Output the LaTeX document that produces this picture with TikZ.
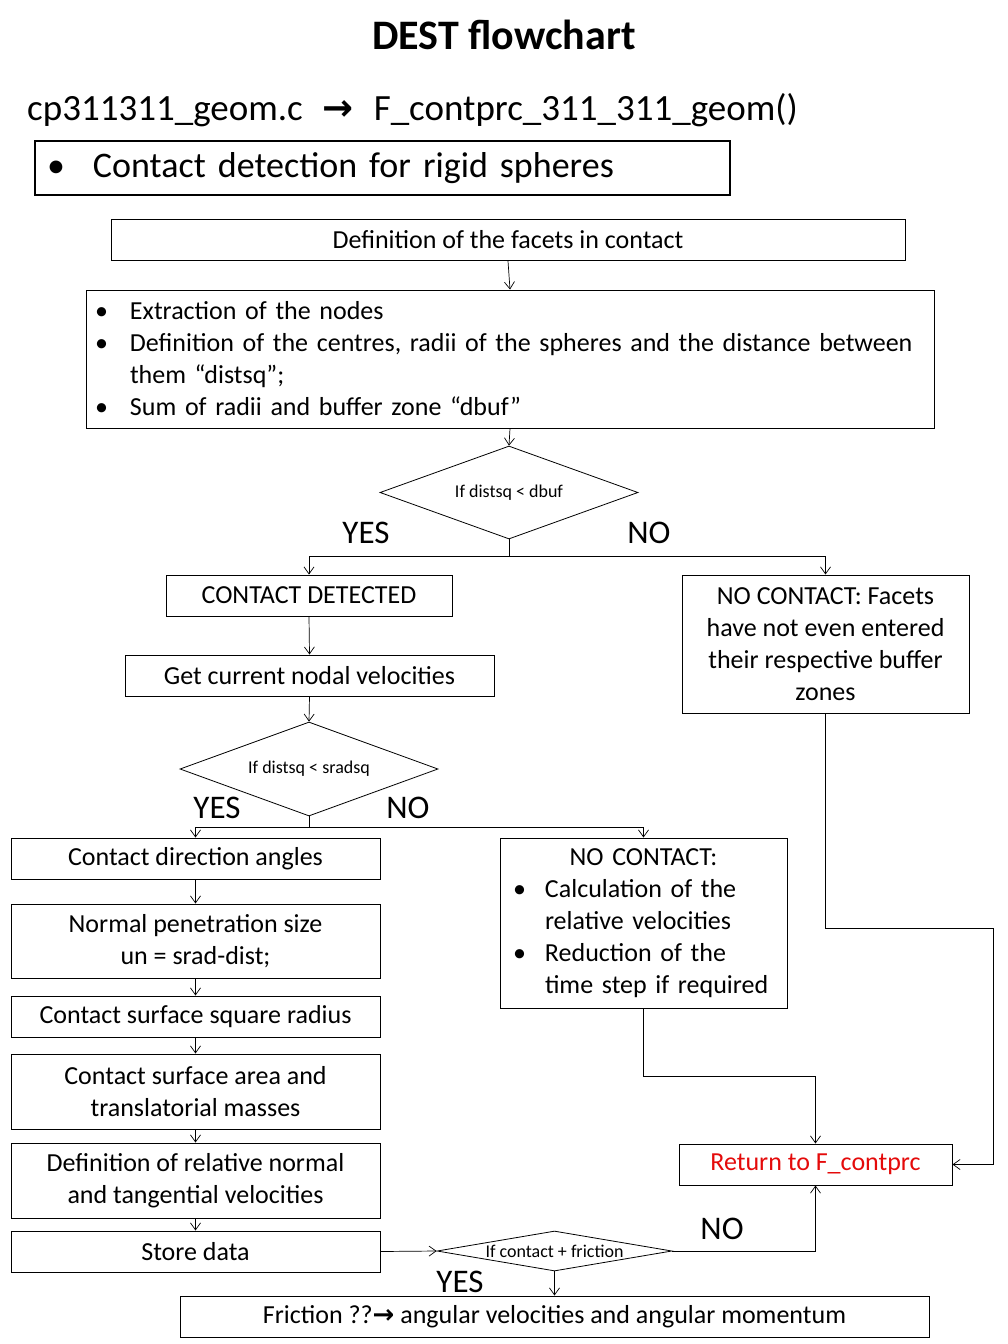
\documentclass[tikz,border=0pt]{standalone}
\usepackage{fontspec}
\setmainfont{Carlito}
\newfontfamily\arrfont{DejaVu Sans}
\usetikzlibrary{arrows.meta,shapes.geometric}
\definecolor{retred}{RGB}{228,10,10}
\newcommand{\dtext}[1]{\makebox[0pt]{#1}}
\begin{document}
\begin{tikzpicture}[x=1pt,y=-1pt,
  box/.style={draw, line width=1pt, inner sep=0pt, font=\fontsize{26}{32}\selectfont, align=center},
  dec/.style={draw, diamond, line width=0.8pt, inner sep=0pt, font=\fontsize{18}{20}\selectfont},
  lbl/.style={font=\fontsize{33}{36}\selectfont, inner sep=0pt},
  arr/.style={line width=0.7pt, -{Straight Barb[length=7pt,width=10pt]}},
  ln/.style={line width=0.7pt}]
\useasboundingbox (0,0) rectangle (1008,1344);

\node[font=\fontsize{42}{46}\bfseries\selectfont, inner sep=0pt] (title) at (504,35) {DEST flowchart};
\node[font=\fontsize{37}{40}\selectfont, inner sep=0pt, anchor=west] (sub) at (27,110)
  {cp311311\_geom.c\hspace{20pt}{\arrfont\bfseries →}\hspace{20pt}F\_contprc\_311\_311\_geom()};
\node[draw, line width=2.6pt, minimum width=695, minimum height=54, inner sep=0pt,
  font=\fontsize{36}{38}\selectfont, text width=671, inner xsep=12, align=left] (head) at (382.5,168)
  {\makebox[46pt][l]{\textbullet}Contact detection for rigid spheres};

\node[box, minimum width=794, minimum height=41] (facets) at (508,240) {Definition of the facets in contact};
\node[box, minimum width=848, minimum height=138, text width=830, inner xsep=9, align=left] (extract) at (510,359)
  {\makebox[35pt][l]{\textbullet}Extraction of the nodes\\
   \makebox[35pt][l]{\textbullet}Definition of the centres, radii of the spheres and the distance between\\
   \hspace*{35pt}them “distsq”;\\
   \makebox[35pt][l]{\textbullet}Sum of radii and buffer zone “dbuf”};

\node[dec, minimum width=258, minimum height=93] (d1) at (509,492.5) {\dtext{If distsq < dbuf}};
\node[lbl] (y1) at (366,533) {YES};
\node[lbl] (n1) at (649,533) {NO};

\node[box, minimum width=286, minimum height=41] (cd) at (309,595.5) {CONTACT DETECTED};
\node[box, minimum width=369, minimum height=41] (vel) at (309.5,675.5) {Get current nodal velocities};
\node[box, minimum width=287, minimum height=138] (nc1) at (825.5,644)
  {NO CONTACT: Facets\\have not even entered\\their respective buffer\\zones};

\node[dec, minimum width=258, minimum height=94] (d2) at (309,769) {\dtext{If distsq < sradsq}};
\node[lbl] (y2) at (217,808) {YES};
\node[lbl] (n2) at (408,808) {NO};

\node[box, minimum width=369, minimum height=41] (ang) at (195.5,858.5) {Contact direction angles};
\node[box, minimum width=369, minimum height=74] (pen) at (195.5,941) {Normal penetration size\\un = srad-dist;};
\node[box, minimum width=369, minimum height=41] (rad) at (195.5,1016.5) {Contact surface square radius};
\node[box, minimum width=369, minimum height=75] (area) at (195.5,1091.5) {Contact surface area and\\translatorial masses};
\node[box, minimum width=369, minimum height=75] (rel) at (195.5,1180.5) {Definition of relative normal\\and tangential velocities};
\node[box, minimum width=369, minimum height=41] (store) at (195.5,1251.5) {Store data};

\node[box, minimum width=287, minimum height=170, text width=261, inner xsep=13, align=left] (nc2) at (643.5,923)
  {\makebox[261pt][c]{NO CONTACT:}\\
   \makebox[32pt][l]{\textbullet}Calculation of the\\
   \hspace*{32pt}relative velocities\\
   \makebox[32pt][l]{\textbullet}Reduction of the\\
   \hspace*{32pt}time step if required};

\node[box, minimum width=273, minimum height=41, text=retred] (ret) at (815.5,1164.5) {Return to F\_contprc};

\node[dec, minimum width=235, minimum height=40] (d3) at (554.5,1251) {\dtext{If contact + friction}};
\node[lbl] (n3) at (722,1229) {NO};
\node[lbl] (y3) at (460,1282) {YES};

\node[box, minimum width=749, minimum height=41] (fr) at (554.5,1316.5)
  {Friction ??{\arrfont\bfseries →} angular velocities and angular momentum};

% connectors
\draw[arr] (facets.south) -- (extract.north);
\draw[arr] (extract.south) -- (d1.north);
\coordinate (j1) at (509,556);
\draw[ln] (d1.south) -- (j1);
\draw[arr] (j1) -| (cd.north);
\draw[arr] (j1) -| (nc1.north);
\draw[arr] (cd.south) -- (vel.north);
\draw[arr] (vel.south) -- (d2.north);
\coordinate (j2) at (309,827);
\draw[ln] (d2.south) -- (j2);
\draw[arr] (j2) -| (ang.north);
\draw[arr] (j2) -| (nc2.north);
\draw[arr] (ang.south) -- (pen.north);
\draw[arr] (pen.south) -- (rad.north);
\draw[arr] (rad.south) -- (area.north);
\draw[arr] (area.south) -- (rel.north);
\draw[arr] (rel.south) -- (store.north);
\draw[arr] (store.east) -- (d3.west);
\draw[arr] (d3.east) -| (ret.south);
\draw[arr] (d3.south) -- (fr.north);
\coordinate (r1) at (993,928);
\draw[arr] (nc1.south) |- (r1) |- (ret.east);
\coordinate (r2) at (815.5,1076);
\draw[arr] (nc2.south) |- (r2) -- (ret.north);
\end{tikzpicture}
\end{document}
